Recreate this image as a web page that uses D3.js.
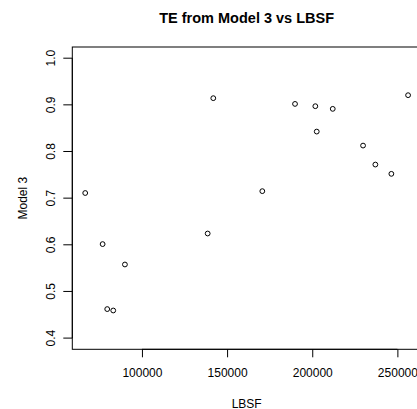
<!DOCTYPE html>
<html>
<head>
<meta charset="utf-8">
<script src="https://cdn.jsdelivr.net/npm/d3@7"></script>
<style>
  html, body { margin: 0; padding: 0; background: #fff; }
  svg { display: block; font-family: "Liberation Sans", Arial, Helvetica, sans-serif; }
</style>
</head>
<body>
<svg id="chart" width="417" height="409"></svg>
<script>
// Data
const lbsf   = [66690, 76910, 79610, 83140, 90010, 138600, 141890, 170680, 189890, 201810, 202640, 212040, 229840, 237060, 246460, 256280];
const model3 = [0.711, 0.6015, 0.4622, 0.4592, 0.5578, 0.6242, 0.9143, 0.715, 0.902, 0.8971, 0.8427, 0.8914, 0.8127, 0.772, 0.7521, 0.9207];
const xTicks = [100000, 150000, 200000, 250000];
const yTicks = [0.4, 0.5, 0.6, 0.7, 0.8, 0.9, 1.0];
const yLimits = [0.4, 1.0];
const title = "TE from Model 3 vs LBSF";
const xLabel = "LBSF";
const yLabel = "Model 3";

const svg = d3.select("#chart");
const plot = { left: 72.3, right: 421, top: 47, bottom: 349.3 };

// R-style 4% padding
const [xmin, xmax] = d3.extent(lbsf);
const xpad = 0.04 * (xmax - xmin);
const ypad = 0.04 * (yLimits[1] - yLimits[0]);

const x = d3.scaleLinear().domain([xmin - xpad, xmax + xpad]).range([plot.left, plot.right]);
const y = d3.scaleLinear().domain([yLimits[0] - ypad, yLimits[1] + ypad]).range([plot.bottom, plot.top]);

// Box
svg.append("rect")
  .attr("x", plot.left).attr("y", plot.top)
  .attr("width", plot.right - plot.left).attr("height", plot.bottom - plot.top)
  .attr("fill", "none").attr("stroke", "#000").attr("stroke-width", 1);

// X axis
const xAxis = d3.axisBottom(x).tickValues(xTicks).tickSize(8).tickPadding(11).tickFormat(d3.format("d"));
const gx = svg.append("g").attr("transform", `translate(0,${plot.bottom})`).call(xAxis);
gx.select(".domain").attr("d", `M${x(xTicks[0])},0H${x(xTicks[xTicks.length-1])}`);
gx.selectAll("text").attr("font-size", 12).attr("fill", "#000").attr("font-family", null);
gx.selectAll("line").attr("stroke", "#000");

// Y axis
const yAxis = d3.axisLeft(y).tickValues(yTicks).tickSize(9).tickFormat(d3.format(".1f"));
const gy = svg.append("g").attr("transform", `translate(${plot.left},0)`).call(yAxis);
gy.select(".domain").attr("d", `M0,${y(yTicks[0])}V${y(yTicks[yTicks.length-1])}`);
gy.selectAll("line").attr("stroke", "#000");
gy.selectAll("text")
  .attr("font-size", 12).attr("fill", "#000").attr("font-family", null)
  .attr("x", null).attr("dy", null)
  .attr("text-anchor", "middle")
  .attr("transform", d => `translate(${-17.5},${y(d)}) rotate(-90)`)
  .attr("y", 0);
gy.selectAll(".tick").attr("transform", null);
gy.selectAll(".tick line").attr("transform", d => `translate(0,${y(d)})`);

// Points
svg.append("g").selectAll("circle")
  .data(lbsf.map((v, i) => [v, model3[i]]))
  .join("circle")
  .attr("cx", d => x(d[0])).attr("cy", d => y(d[1]))
  .attr("r", 2.4)
  .attr("fill", "none").attr("stroke", "#000").attr("stroke-width", 1);

// Title
svg.append("text")
  .attr("x", (plot.left + plot.right) / 2).attr("y", 22.5)
  .attr("text-anchor", "middle").attr("font-size", 14.5).attr("font-weight", "bold")
  .text(title);

// Axis labels
svg.append("text")
  .attr("x", (plot.left + plot.right) / 2).attr("y", 407.5)
  .attr("text-anchor", "middle").attr("font-size", 12)
  .text(xLabel);

svg.append("text")
  .attr("transform", `translate(27,${(plot.top + plot.bottom) / 2}) rotate(-90)`)
  .attr("text-anchor", "middle").attr("font-size", 12)
  .text(yLabel);
</script>
</body>
</html>
